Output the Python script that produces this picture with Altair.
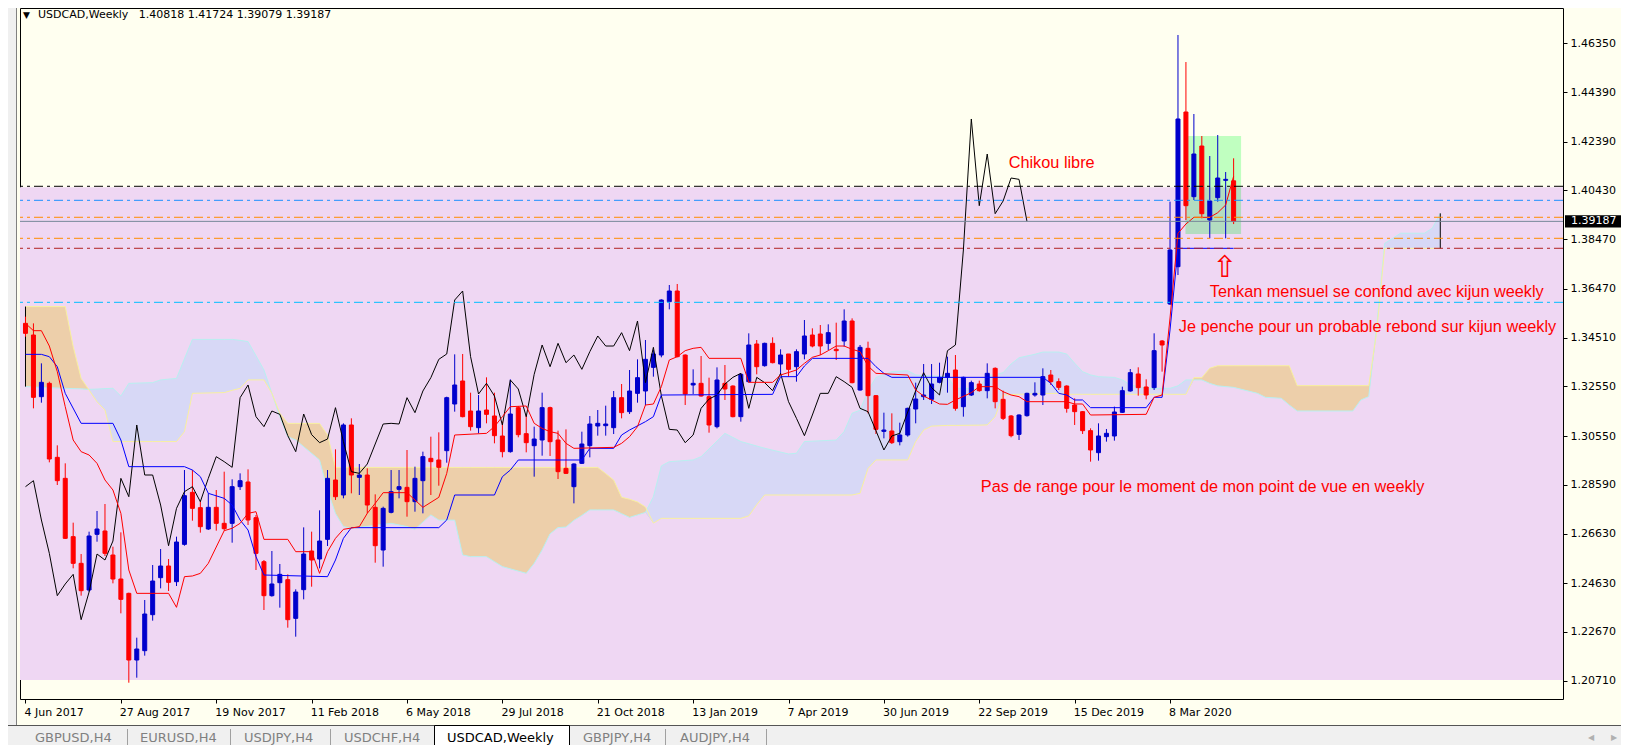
import json

import altair as alt
import numpy as np
import pandas as pd

# USDCAD weekly candles, week 0 = 4 Jun 2017 (one week = one step on x)
opens = [
    1.35085, 1.34616, 1.32135, 1.32672, 1.29695, 1.28850, 1.26504, 1.25431, 1.24358, 1.26598,
    1.26732, 1.25766, 1.24801, 1.24224, 1.21542, 1.21918, 1.23366, 1.24854, 1.25324, 1.24693,
    1.26195, 1.28287, 1.27670, 1.26812, 1.27684, 1.27040, 1.27040, 1.28515, 1.28703, 1.27268,
    1.25498, 1.24130, 1.24653, 1.24774, 1.23218, 1.24372, 1.25927, 1.25605, 1.26396, 1.28783,
    1.28180, 1.30996, 1.28890, 1.28984, 1.27684, 1.25967, 1.27482, 1.28408, 1.28488, 1.27912,
    1.28756, 1.29655, 1.29588, 1.29963, 1.31840, 1.32766, 1.31559, 1.30888, 1.31599, 1.31358,
    1.30553, 1.29923, 1.31693, 1.30647, 1.30164, 1.30392, 1.31693, 1.30392, 1.29252, 1.28515,
    1.29454, 1.30164, 1.30955, 1.30969, 1.30888, 1.32095, 1.31532, 1.32269, 1.32363, 1.33315,
    1.33811, 1.35957, 1.36386, 1.33811, 1.32605, 1.32672, 1.32135, 1.30929, 1.32672, 1.32564,
    1.31331, 1.32739, 1.34254, 1.33382, 1.34281, 1.33449, 1.33852, 1.33342, 1.33852, 1.34616,
    1.34656, 1.34281, 1.34040, 1.34375, 1.35179, 1.32403, 1.34080, 1.32176, 1.30740, 1.30754,
    1.30325, 1.30593, 1.31639, 1.32135, 1.32028, 1.32712, 1.32913, 1.33208, 1.31733, 1.32202,
    1.32645, 1.32377, 1.33275, 1.32028, 1.31358, 1.30620, 1.31371, 1.32202, 1.32202, 1.33007,
    1.32739, 1.32564, 1.31800, 1.31532, 1.30768, 1.29883, 1.30527, 1.30554, 1.31506, 1.32364,
    1.33048, 1.32525, 1.32498, 1.34375, 1.35864, 1.37364, 1.43586, 1.40180, 1.42218, 1.39242,
    1.40140, 1.40837, 1.40818,
]
highs = [
    1.35354, 1.35085, 1.33476, 1.32739, 1.30177, 1.29454, 1.27067, 1.25806, 1.26705, 1.27536,
    1.27818, 1.26101, 1.26678, 1.24251, 1.22441, 1.23956, 1.25364, 1.26007, 1.25605, 1.26504,
    1.29185, 1.29185, 1.27952, 1.28247, 1.28381, 1.29118, 1.28810, 1.29051, 1.29212, 1.27375,
    1.25565, 1.25927, 1.25404, 1.24988, 1.24385, 1.26879, 1.26705, 1.27563, 1.29185, 1.30017,
    1.31063, 1.31264, 1.29427, 1.29252, 1.28207, 1.27710, 1.29185, 1.29185, 1.29990, 1.29319,
    1.29923, 1.30526, 1.30701, 1.32135, 1.33838, 1.33852, 1.32296, 1.32202, 1.32913, 1.32296,
    1.31130, 1.32833, 1.31760, 1.31398, 1.30929, 1.32296, 1.31733, 1.30768, 1.30821, 1.29454,
    1.30727, 1.31358, 1.31599, 1.31773, 1.32363, 1.32645, 1.33208, 1.33637, 1.34415, 1.34013,
    1.36051, 1.36627, 1.36668, 1.33838, 1.33235, 1.33771, 1.32900, 1.33315, 1.33409, 1.32591,
    1.33074, 1.34683, 1.34415, 1.34308, 1.34522, 1.34040, 1.33852, 1.34040, 1.35219, 1.34884,
    1.35018, 1.35045, 1.35112, 1.35648, 1.35286, 1.34214, 1.34348, 1.32202, 1.31492, 1.31465,
    1.31090, 1.31693, 1.32699, 1.33449, 1.33449, 1.33503, 1.33744, 1.33811, 1.32940, 1.32780,
    1.32780, 1.33476, 1.33315, 1.32377, 1.31398, 1.31425, 1.32296, 1.32712, 1.33275, 1.33208,
    1.32873, 1.32591, 1.32069, 1.31559, 1.30862, 1.31063, 1.30835, 1.31734, 1.32538, 1.33249,
    1.33316, 1.32833, 1.34684, 1.34415, 1.39979, 1.46684, 1.45597, 1.43506, 1.42621, 1.41816,
    1.42661, 1.41172, 1.41724,
]
lows = [
    1.34549, 1.31666, 1.31894, 1.29494, 1.28582, 1.26410, 1.25230, 1.24130, 1.24291, 1.26302,
    1.25726, 1.24626, 1.23420, 1.20630, 1.20831, 1.21717, 1.23125, 1.24425, 1.24318, 1.24519,
    1.26141, 1.27147, 1.26665, 1.26772, 1.26745, 1.26745, 1.26262, 1.28381, 1.26973, 1.25163,
    1.23554, 1.24090, 1.23648, 1.22843, 1.22481, 1.23983, 1.24492, 1.25230, 1.26128, 1.27979,
    1.28046, 1.28247, 1.28180, 1.27442, 1.25457, 1.25297, 1.27442, 1.28046, 1.27308, 1.27509,
    1.27442, 1.28180, 1.28555, 1.29480, 1.31532, 1.31304, 1.30768, 1.30660, 1.31063, 1.30258,
    1.29695, 1.29883, 1.30500, 1.29896, 1.28917, 1.29762, 1.29749, 1.28823, 1.29024, 1.27844,
    1.29427, 1.29695, 1.30567, 1.30567, 1.30633, 1.31264, 1.31438, 1.31894, 1.31800, 1.32940,
    1.33718, 1.35648, 1.33718, 1.31800, 1.32242, 1.32135, 1.30687, 1.30861, 1.32001, 1.31304,
    1.31130, 1.32699, 1.33034, 1.33342, 1.33476, 1.33007, 1.32940, 1.32739, 1.33637, 1.34120,
    1.33811, 1.34013, 1.33610, 1.34147, 1.32672, 1.32377, 1.31465, 1.30633, 1.30459, 1.30231,
    1.30177, 1.30526, 1.31063, 1.32001, 1.31840, 1.32672, 1.32296, 1.31572, 1.31331, 1.32162,
    1.32336, 1.32068, 1.31666, 1.31197, 1.30500, 1.30392, 1.31331, 1.32135, 1.31800, 1.32605,
    1.32403, 1.31492, 1.30996, 1.30634, 1.29521, 1.29561, 1.30326, 1.30366, 1.31479, 1.32337,
    1.32176, 1.32029, 1.32404, 1.33142, 1.35823, 1.37029, 1.39242, 1.40046, 1.39309, 1.38504,
    1.39979, 1.38504, 1.39079,
]
closes = [
    1.34683, 1.32109, 1.32712, 1.29628, 1.28756, 1.26437, 1.25431, 1.24331, 1.26531, 1.26812,
    1.25833, 1.24801, 1.23983, 1.21542, 1.21985, 1.23393, 1.24720, 1.25324, 1.24667, 1.26289,
    1.28153, 1.27643, 1.26906, 1.27684, 1.27040, 1.26825, 1.28515, 1.28756, 1.27174, 1.25833,
    1.24130, 1.24600, 1.24988, 1.23165, 1.24278, 1.25806, 1.25565, 1.26329, 1.28850, 1.28112,
    1.30996, 1.28984, 1.28984, 1.27777, 1.26141, 1.27643, 1.28314, 1.28515, 1.27912, 1.28850,
    1.29722, 1.29521, 1.29293, 1.32095, 1.32605, 1.31331, 1.30929, 1.31559, 1.31425, 1.30567,
    1.29923, 1.31438, 1.30607, 1.30285, 1.30432, 1.31693, 1.30325, 1.29118, 1.29051, 1.29427,
    1.30231, 1.31036, 1.31063, 1.31036, 1.32095, 1.31492, 1.32363, 1.32900, 1.33637, 1.33852,
    1.36024, 1.36386, 1.33744, 1.32242, 1.32672, 1.32162, 1.30996, 1.32806, 1.32444, 1.31331,
    1.33034, 1.34214, 1.33342, 1.34281, 1.33503, 1.33811, 1.33235, 1.33946, 1.34576, 1.34173,
    1.34173, 1.34710, 1.33986, 1.35179, 1.32699, 1.34120, 1.32176, 1.30821, 1.30794, 1.30285,
    1.30593, 1.31666, 1.32041, 1.32202, 1.32645, 1.32913, 1.33074, 1.31666, 1.32913, 1.32699,
    1.32377, 1.33074, 1.31934, 1.31264, 1.30567, 1.31398, 1.32269, 1.32269, 1.32940, 1.32739,
    1.32511, 1.31666, 1.31532, 1.30768, 1.29991, 1.30554, 1.30661, 1.31519, 1.32377, 1.33101,
    1.32498, 1.32203, 1.33986, 1.34214, 1.38035, 1.43305, 1.39818, 1.41897, 1.39496, 1.40006,
    1.40931, 1.40877, 1.39187,
]

# Ichimoku lines: (week, price)
tenkan = [
    (0, 1.35085), (1, 1.34790), (2, 1.34790), (3, 1.34173), (4, 1.33141), (5, 1.31733),
    (6, 1.30392), (7, 1.29923), (8, 1.29789), (9, 1.29453), (10, 1.28783), (11, 1.28381),
    (12, 1.27442), (13, 1.25163), (14, 1.24224), (18, 1.24224), (19, 1.23661), (20, 1.24895),
    (21, 1.24922), (22, 1.25028), (23, 1.25431), (25, 1.26745), (26, 1.26839), (27, 1.27040),
    (28, 1.27442), (29, 1.27509), (30, 1.26396), (33, 1.26396), (34, 1.25900), (36, 1.25900),
    (37, 1.25028), (38, 1.25900), (39, 1.26437), (40, 1.26799), (42, 1.26906), (43, 1.27442),
    (44, 1.27844), (45, 1.28274), (48, 1.28274), (49, 1.27979), (50, 1.27684), (52, 1.28086),
    (53, 1.29051), (54, 1.30593), (58, 1.30660), (59, 1.30929), (60, 1.31331), (61, 1.31733),
    (63, 1.31760), (64, 1.31063), (65, 1.30861), (66, 1.30727), (67, 1.30660), (68, 1.30258),
    (69, 1.30057), (74, 1.30097), (75, 1.30258), (76, 1.30526), (77, 1.30929), (78, 1.31800),
    (79, 1.31840), (80, 1.32538), (81, 1.33610), (82, 1.33744), (83, 1.33986), (84, 1.34080),
    (85, 1.34120), (86, 1.33677), (90, 1.33677), (91, 1.32712), (94, 1.32712), (95, 1.33007),
    (97, 1.33208), (98, 1.33476), (99, 1.33718), (100, 1.33811), (101, 1.33986), (102, 1.34173),
    (103, 1.34173), (104, 1.34040), (105, 1.33946), (106, 1.33369), (107, 1.33074), (111, 1.33007),
    (112, 1.32403), (113, 1.32162), (115, 1.31840), (116, 1.31827), (117, 1.32001), (119, 1.32296),
    (120, 1.32538), (122, 1.32538), (123, 1.32336), (124, 1.32202), (125, 1.32135), (126, 1.31934),
    (131, 1.31934), (132, 1.31841), (133, 1.31841), (134, 1.31398), (141, 1.31425), (142, 1.32109),
    (143, 1.32203), (144, 1.35300), (145, 1.38705), (146, 1.39081), (147, 1.39349), (149, 1.39349),
    (150, 1.39536), (151, 1.39845), (152, 1.41000),
]
kijun = [
    (0, 1.33838), (2, 1.33838), (3, 1.33744), (4, 1.33342), (5, 1.32269), (7, 1.31063),
    (11, 1.31063), (12, 1.30392), (13, 1.29320), (20, 1.29320), (21, 1.29185), (22, 1.28917),
    (23, 1.28247), (25, 1.28046), (26, 1.27777), (27, 1.27174), (28, 1.26771), (29, 1.25699),
    (30, 1.24962), (38, 1.24895), (39, 1.25565), (40, 1.26437), (41, 1.26866), (52, 1.26866),
    (53, 1.27174), (54, 1.28180), (59, 1.28180), (60, 1.28917), (61, 1.29185), (62, 1.29588),
    (70, 1.29588), (71, 1.30057), (74, 1.30057), (75, 1.30593), (76, 1.30794), (78, 1.31130),
    (79, 1.31331), (80, 1.32202), (94, 1.32229), (95, 1.32940), (97, 1.32940), (98, 1.33369),
    (99, 1.33677), (106, 1.33677), (107, 1.33342), (108, 1.33074), (109, 1.32913), (128, 1.32913),
    (129, 1.32672), (130, 1.32269), (131, 1.32203), (132, 1.32002), (133, 1.32002), (134, 1.31693),
    (141, 1.31693), (142, 1.32109), (143, 1.32109), (144, 1.34818), (145, 1.38103), (152, 1.38103),
]
# kumo: (week, senkou A, senkou B)
cloud = [
    (0, 1.3254, 1.3576), (5, 1.3247, 1.3576), (6, 1.3246, 1.3415), (7, 1.3245, 1.3287),
    (8, 1.3243, 1.3240), (9, 1.3244, 1.3193), (10, 1.3246, 1.3160), (11, 1.3247, 1.3033),
    (12, 1.3216, 1.3033), (13, 1.3267, 1.3033), (16, 1.3270, 1.3033), (17, 1.3281, 1.3033),
    (19, 1.3287, 1.3033), (20, 1.3366, 1.3073), (21, 1.3444, 1.3227), (25, 1.3444, 1.3230),
    (26, 1.3444, 1.3239), (27, 1.3440, 1.3247), (28, 1.3435, 1.3281), (30, 1.3321, 1.3281),
    (31, 1.3227, 1.3227), (32, 1.3133, 1.3147), (33, 1.3053, 1.3106), (34, 1.3039, 1.3106),
    (37, 1.2959, 1.3106), (38, 1.2838, 1.3059), (39, 1.2744, 1.2929), (40, 1.2691, 1.2929),
    (41, 1.2684, 1.2929), (46, 1.2704, 1.2929), (48, 1.2691, 1.2929), (49, 1.2680, 1.2929),
    (51, 1.2738, 1.2929), (52, 1.2717, 1.2929), (54, 1.2717, 1.2929), (55, 1.2577, 1.2929),
    (56, 1.2570, 1.2929), (58, 1.2570, 1.2929), (59, 1.2550, 1.2929), (60, 1.2530, 1.2929),
    (63, 1.2503, 1.2929), (64, 1.2543, 1.2929), (65, 1.2597, 1.2929), (66, 1.2662, 1.2929),
    (67, 1.2687, 1.2929), (68, 1.2689, 1.2929), (69, 1.2716, 1.2929), (70, 1.2736, 1.2929),
    (71, 1.2758, 1.2929), (72, 1.2758, 1.2929), (73, 1.2758, 1.2904), (74, 1.2758, 1.2878),
    (75, 1.2743, 1.2809), (76, 1.2728, 1.2801), (77, 1.2738, 1.2790), (78, 1.2748, 1.2770),
    (79, 1.2811, 1.2705), (80, 1.2935, 1.2724), (81, 1.2952, 1.2724), (84, 1.2959, 1.2724),
    (85, 1.2972, 1.2724), (88, 1.3066, 1.2724), (90, 1.3033, 1.2724), (91, 1.3024, 1.2734),
    (92, 1.3015, 1.2779), (93, 1.3006, 1.2818), (96, 1.2983, 1.2818), (97, 1.2986, 1.2818),
    (98, 1.3033, 1.2818), (102, 1.3039, 1.2818), (103, 1.3073, 1.2818), (104, 1.3147, 1.2818),
    (105, 1.3159, 1.2825), (106, 1.3238, 1.2925), (107, 1.3291, 1.2959), (109, 1.3314, 1.2959),
    (111, 1.3318, 1.2959), (112, 1.3301, 1.3033), (113, 1.3298, 1.3079), (114, 1.3297, 1.3095),
    (116, 1.3295, 1.3098), (117, 1.3247, 1.3098), (120, 1.3247, 1.3099), (121, 1.3298, 1.3100),
    (122, 1.3302, 1.3133), (123, 1.3310, 1.3220), (124, 1.3345, 1.3222), (125, 1.3370, 1.3223),
    (127, 1.3384, 1.3225), (128, 1.3393, 1.3226), (130, 1.3393, 1.3227), (131, 1.3385, 1.3223),
    (132, 1.3348, 1.3223), (133, 1.3314, 1.3223), (134, 1.3301, 1.3223), (135, 1.3294, 1.3223),
    (137, 1.3291, 1.3223), (138, 1.3281, 1.3223), (139, 1.3261, 1.3223), (141, 1.3247, 1.3223),
    (144, 1.3247, 1.3223), (145, 1.3257, 1.3223), (146, 1.3281, 1.3223), (147, 1.3281, 1.3290),
    (148, 1.3281, 1.3290), (149, 1.3267, 1.3328), (150, 1.3257, 1.3338), (152, 1.3251, 1.3338),
    (155, 1.3227, 1.3338), (156, 1.3211, 1.3338), (158, 1.3207, 1.3338), (159, 1.3180, 1.3338),
    (160, 1.3156, 1.3258), (167, 1.3156, 1.3258), (168, 1.3200, 1.3258), (169, 1.3214, 1.3258),
    (170, 1.3498, 1.3475), (171, 1.3830, 1.3810), (172, 1.3850, 1.3810), (173, 1.3871, 1.3810),
    (176, 1.3871, 1.3810), (177, 1.3891, 1.3810), (178, 1.3951, 1.3810),
]

date_labels = ["4 Jun 2017", "27 Aug 2017", "19 Nov 2017", "11 Feb 2018", "6 May 2018",
               "29 Jul 2018", "21 Oct 2018", "13 Jan 2019", "7 Apr 2019", "30 Jun 2019",
               "22 Sep 2019", "15 Dec 2019", "8 Mar 2020"]
price_ticks = [1.46350, 1.44390, 1.42390, 1.40430, 1.38470, 1.36470, 1.34510,
               1.32550, 1.30550, 1.28590, 1.26630, 1.24630, 1.22670, 1.20710]

levels = [1.40598, 1.40034, 1.39351, 1.38506, 1.38104, 1.35931]
level_colors = ["#000000", "#1E90FF", "#FF8C00", "#FF8C00", "#B22222", "#00BFFF"]

zone = (-1, 200, 1.40559, 1.20738)        # pink rectangle: week from/to, top, bottom
box = (145.94, 152.94, 1.42621, 1.38679)  # green rectangle

notes = [
    (123.7, 1.41535, "Chikou libre"),
    (149.0, 1.36358, "Tenkan mensuel se confond avec kijun weekly"),
    (145.1, 1.34926, "Je penche pour un probable rebond sur kijun weekly"),
    (120.2, 1.28482, "Pas de range pour le moment de mon point de vue en weekly"),
]
arrow = (150.9, 1.37331)

tabs = ["GBPUSD,H4", "EURUSD,H4", "USDJPY,H4", "USDCHF,H4", "USDCAD,Weekly", "GBPJPY,H4", "AUDJPY,H4"]
active_tab = "USDCAD,Weekly"

# ---- frames ----
candles = pd.DataFrame({"week": range(len(closes)), "open": opens, "high": highs,
                        "low": lows, "close": closes})
candles["dir"] = np.where(candles["close"] >= candles["open"], "up", "down")
tenkan_df = pd.DataFrame(tenkan, columns=["week", "value"])
kijun_df = pd.DataFrame(kijun, columns=["week", "value"])
chikou_df = pd.DataFrame({"week": range(len(closes) - 26), "value": closes[26:]})
cloud_df = pd.DataFrame(cloud, columns=["week", "a", "b"])
cloud_df["lo"] = np.minimum(cloud_df["a"], cloud_df["b"])
notes_df = pd.DataFrame(notes, columns=["week", "price", "text"])

W, H = 1543, 691
FONT = "DejaVu Sans"
x_scale = alt.Scale(domain=[-0.0625, 192.8125], nice=False, zero=False)
y_scale = alt.Scale(domain=[1.19974, 1.47770], nice=False, zero=False)

x_axis = alt.Axis(values=[12 * k for k in range(len(date_labels))],
                  labelExpr=json.dumps(date_labels) + "[round(datum.value / 12)]",
                  title=None, grid=False, domain=False, tickSize=4, tickColor="black",
                  labelAlign="left", labelBaseline="top", labelPadding=3, labelOffset=-1.5,
                  labelFont=FONT, labelFontSize=11, labelColor="black",
                  labelFlush=False, labelOverlap=False)
y_axis = alt.Axis(values=price_ticks, format=".5f", orient="right", title=None, grid=False,
                  domain=False, tickSize=4, tickColor="black", labelPadding=3,
                  labelFont=FONT, labelFontSize=11, labelColor="black",
                  labelFlush=False, labelOverlap=False, labelBaseline="middle")


def xq(field):
    return alt.X(f"{field}:Q", scale=x_scale, axis=x_axis)


def yq(field):
    return alt.Y(f"{field}:Q", scale=y_scale, axis=y_axis)


one = pd.DataFrame({"k": [0]})


def ui_rect(x, x2, y, y2, **style):
    return alt.Chart(one).mark_rect(**style).encode(
        x=alt.value(x), x2=alt.value(x2), y=alt.value(y), y2=alt.value(y2))


def ui_rule(x, x2, y, y2, **style):
    return alt.Chart(one).mark_rule(**style).encode(
        x=alt.value(x), x2=alt.value(x2), y=alt.value(y), y2=alt.value(y2))


def ui_text(txt, x, y, **style):
    return alt.Chart(one).mark_text(text=txt, **style).encode(x=alt.value(x), y=alt.value(y))


layers = []

# background rectangles
zone_df = pd.DataFrame([zone], columns=["w0", "w1", "top", "bottom"])
layers.append(alt.Chart(zone_df).mark_rect(color="#EFD7F3", clip=True).encode(
    xq("w0"), alt.X2("w1"), yq("top"), alt.Y2("bottom")))
green_hi = pd.DataFrame([(box[0], box[1], box[2], zone[2])], columns=["w0", "w1", "top", "bottom"])
green_lo = pd.DataFrame([(box[0], box[1], zone[2], box[3])], columns=["w0", "w1", "top", "bottom"])
layers.append(alt.Chart(green_hi).mark_rect(color="#C0FFC0").encode(
    xq("w0"), alt.X2("w1"), yq("top"), alt.Y2("bottom")))
layers.append(alt.Chart(green_lo).mark_rect(color="#B3DCC0").encode(
    xq("w0"), alt.X2("w1"), yq("top"), alt.Y2("bottom")))

# kumo
layers.append(alt.Chart(cloud_df).mark_area(color="#EDCFAA", opacity=1).encode(
    xq("week"), yq("b"), alt.Y2("lo")))
layers.append(alt.Chart(cloud_df).mark_area(color="#D7D8F6", opacity=1).encode(
    xq("week"), yq("a"), alt.Y2("lo")))
layers.append(alt.Chart(cloud_df).mark_line(color="#B8F0F0", strokeWidth=1).encode(
    xq("week"), yq("a")))
layers.append(alt.Chart(cloud_df).mark_line(color="#F8F0A0", strokeWidth=1).encode(
    xq("week"), yq("b")))
layers.append(alt.Chart(cloud_df.iloc[[0, -1]]).mark_rule(color="black", strokeWidth=1).encode(
    xq("week"), yq("a"), alt.Y2("b")))

# candles
dir_scale = alt.Scale(domain=["up", "down"], range=["#0000CC", "#FF0000"])
layers.append(alt.Chart(candles).mark_rule(strokeWidth=1).encode(
    xq("week"), yq("low"), alt.Y2("high"),
    alt.Color("dir:N", scale=dir_scale, legend=None)))
layers.append(alt.Chart(candles).mark_bar(size=4, strokeWidth=1).encode(
    xq("week"), yq("open"), alt.Y2("close"),
    alt.Fill("dir:N", scale=dir_scale, legend=None),
    alt.Stroke("dir:N", scale=dir_scale, legend=None)))

# ichimoku lines
layers.append(alt.Chart(chikou_df).mark_line(color="black", strokeWidth=1).encode(
    xq("week"), yq("value")))
layers.append(alt.Chart(kijun_df).mark_line(color="#0000FF", strokeWidth=1).encode(
    xq("week"), yq("value")))
layers.append(alt.Chart(tenkan_df).mark_line(color="#FF0000", strokeWidth=1).encode(
    xq("week"), yq("value")))

# horizontal levels
for price, col in zip(levels, level_colors):
    layers.append(alt.Chart(pd.DataFrame({"p": [price]})).mark_rule(
        color=col, strokeWidth=1, strokeDash=[9, 4, 3, 4]).encode(yq("p")))
last_df = pd.DataFrame({"p": [closes[-1]]})
layers.append(alt.Chart(last_df).mark_rule(color="#778899", strokeWidth=1).encode(yq("p")))

# annotations
layers.append(alt.Chart(notes_df).mark_text(
    align="left", baseline="middle", font="Liberation Sans", fontSize=16.3, color="#FF0000"
).encode(xq("week"), yq("price"), text="text:N"))
arrow_df = pd.DataFrame([arrow], columns=["week", "price"])
layers.append(alt.Chart(arrow_df).mark_text(
    text="\u21e7", align="center", baseline="middle", font=FONT, fontSize=30, color="#FF0000"
).encode(xq("week"), yq("price")))

# current price tag on the axis
layers.append(alt.Chart(last_df).mark_point(
    shape="M-1,-0.22L1,-0.22L1,0.22L-1,0.22Z", size=3136, filled=True,
    color="black", opacity=1, strokeWidth=0).encode(x=alt.value(1573), y=yq("p")))
layers.append(alt.Chart(last_df).mark_text(
    align="left", baseline="middle", font=FONT, fontSize=11, color="white"
).encode(x=alt.value(1551), y=yq("p"), text=alt.Text("p:Q", format=".5f")))

# chart header
layers.append(ui_text("\u25bc", 3, 7, align="left", baseline="middle", font=FONT,
                      fontSize=9, color="black"))
layers.append(ui_text("USDCAD,Weekly\u00a0\u00a0\u00a01.40818 1.41724 1.39079 1.39187", 18, 7,
                      align="left", baseline="middle", font=FONT, fontSize=11, color="black"))

# terminal frame: left panel edge and symbol tabs
layers.append(ui_rect(-12, -4, 0, 737, color="#F0F0F0"))
layers.append(ui_rule(-3.5, -3.5, 0, 737, color="#808080", strokeWidth=1))
layers.append(ui_rect(-12, 1601, 717, 737, color="#F0F0F0"))
layers.append(ui_rule(-12, 1601, 717.5, 717.5, color="#555555", strokeWidth=1))
tab_x = [15, 120, 224, 324, 427, 563, 660]
sep_x = [107.5, 210.5, 310.5, 645.5, 746.5]
layers.append(ui_rect(414.5, 549.5, 717.5, 746, fill="white", stroke="black", strokeWidth=1))
for sx in sep_x:
    layers.append(ui_rule(sx, sx, 721, 737, color="#A0A0A0", strokeWidth=1))
for name, tx in zip(tabs, tab_x):
    layers.append(ui_text(name, tx, 729.7, align="left", baseline="middle", font=FONT,
                          fontSize=13, color="black" if name == active_tab else "#808080"))
layers.append(ui_text("\u25c0", 1571, 730, align="center", baseline="middle", font=FONT,
                      fontSize=8, color="#B0B0B0"))
layers.append(ui_text("\u25b6", 1594, 730, align="center", baseline="middle", font=FONT,
                      fontSize=8, color="#B0B0B0"))

chart = alt.layer(*layers).properties(
    width=W,
    height=H,
    padding={"left": 12, "right": 58, "top": 0, "bottom": 46},
    autosize=alt.AutoSizeParams(type="none"),
    background="#FFFFF0",
).configure_view(stroke="black", strokeWidth=1)

chart.save("out.html", embed_options={"renderer": "svg", "actions": False})
